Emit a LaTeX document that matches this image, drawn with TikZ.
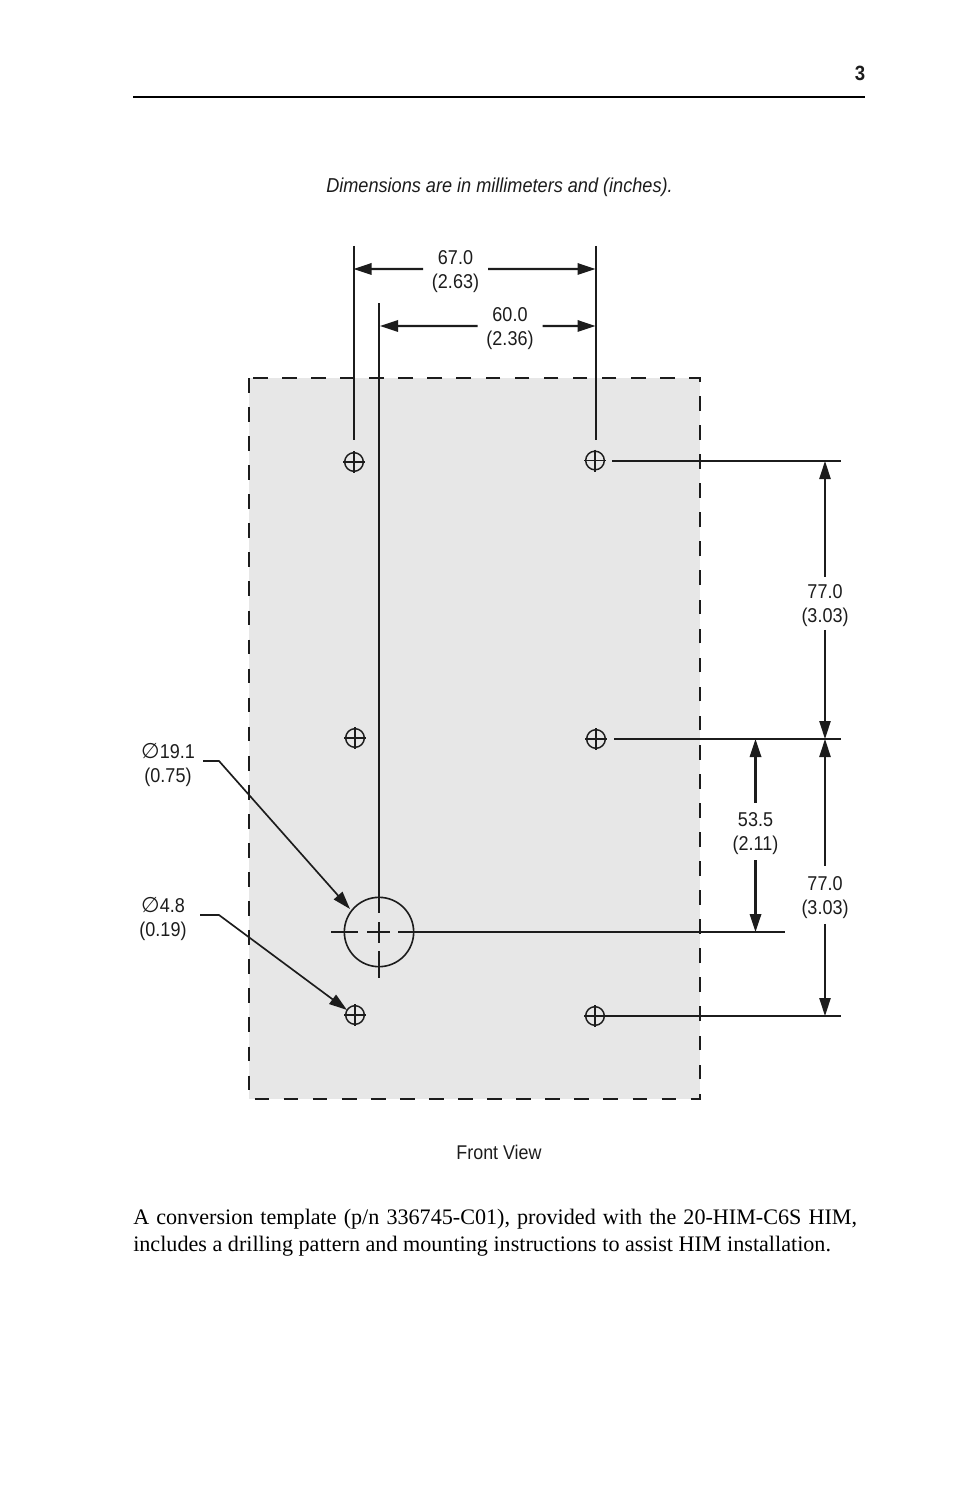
\documentclass[tikz,border=0pt]{standalone}
\usepackage{fontspec}
\setmainfont{Liberation Serif}
\newfontfamily\labelfont[FakeStretch=0.9]{Liberation Sans}
\newfontfamily\symfont{DejaVu Sans}
\usetikzlibrary{arrows.meta}
\definecolor{ink}{HTML}{1C1C1C}
\definecolor{panel}{HTML}{E7E7E7}
\tikzset{
  x=0.75pt,y=-0.75pt,
  thinline/.style={draw=ink,line width=1.1pt},
  medline/.style={draw=ink,line width=1.2pt},
  dimarrow/.style={draw=ink,line width=1.0pt,-{Triangle[length=13.5pt,width=8.5pt]}},
  leaderarrow/.style={draw=ink,line width=1.25pt,-{Triangle[length=13.5pt,width=8.5pt]}},
  boldarrow/.style={draw=ink,line width=1.7pt,-{Triangle[length=13.5pt,width=8.5pt]}},
  dimlabel/.style={font=\fontsize{15pt}{18pt}\selectfont\labelfont,text=ink,align=center,inner sep=0pt,outer sep=0pt},
  holemark/.style={circle,draw=ink,line width=1.1pt,minimum size=14pt,inner sep=0pt},
  bigbore/.style={circle,draw=ink,line width=1.2pt,minimum size=52pt,inner sep=0pt},
  panelbox/.style={fill=panel,draw=none},
  paneldash/.style={draw=ink,line width=1.5pt,dash pattern=on 11pt off 10.8pt},
  lift/.style={yshift=1.9pt},
}
\begin{document}
\begin{tikzpicture}
\useasboundingbox (0,0) rectangle (954,1487);
% header
\node[inner sep=0pt,font=\fontsize{15.5pt}{18pt}\selectfont\labelfont\bfseries,text=ink] (pagenum) at (860,73) {3};
\coordinate (ruleL) at (133,97);
\coordinate (ruleR) at (865,97);
\draw[draw=black,line width=1.4pt] (ruleL) -- (ruleR);
\node[inner sep=0pt,font=\fontsize{15.1pt}{18pt}\selectfont\labelfont\itshape,text=ink] (caption) at (499.5,187) {Dimensions are in millimeters and (inches).};
% panel
\coordinate (pA) at (249,378);
\coordinate (pB) at (700,1099);
\fill[panelbox] (pA) rectangle (pB);
\draw[paneldash] (pA) rectangle (pB);
% holes
\foreach \n/\x/\y in {h1/354/462,h2/595/460.5,h3/355/738,h4/596/739,h5/355/1015,h6/595/1016}{
  \node[holemark] (\n) at (\x,\y) {};
  \draw[thinline] (\x-11,\y) -- (\x+11,\y);
  \draw[thinline] (\x,\y-11) -- (\x,\y+11);
}
% big bore
\node[bigbore] (bore) at (379,932) {};
\draw[thinline] (379,303) -- (379,913);
\draw[thinline] (379,922) -- (379,943);
\draw[thinline] (367,932) -- (390,932);
\draw[thinline] (379,951) -- (379,978);
\draw[thinline] (331,932) -- (358,932);
\coordinate (boreEnd) at (785,932);
\draw[medline] (398,932) -- (boreEnd);
% extension lines
\coordinate (xA) at (354,246); \coordinate (xAb) at (354,440);
\coordinate (xB) at (596,246); \coordinate (xBb) at (596,440);
\draw[medline] (xA) -- (xAb);
\draw[medline] (xB) -- (xBb);
\coordinate (e1) at (841,461); \coordinate (e2) at (841,739); \coordinate (e3) at (841,1016);
\draw[medline] (612,461) -- (e1);
\draw[medline] (614,739) -- (e2);
\draw[medline] (604,1016) -- (e3);
% horizontal dimensions
\node[dimlabel,minimum width=48.75pt] (d67) at (455.5,271.5) {67.0\\(2.63)};
\draw[boldarrow] ([lift]d67.west) -- (353.5,269);
\draw[boldarrow] ([lift]d67.east) -- (595.5,269);
\node[dimlabel,minimum width=48.75pt] (d60) at (510,328.5) {60.0\\(2.36)};
\draw[boldarrow] ([lift]d60.west) -- (380,326);
\draw[boldarrow] ([lift]d60.east) -- (595.5,326);
% vertical dimensions
\node[dimlabel,minimum height=39.75pt] (d77a) at (825,606) {77.0\\(3.03)};
\draw[dimarrow] ([lift]d77a.north) -- (825,461);
\draw[dimarrow] ([lift]d77a.south) -- (825,739);
\node[dimlabel,minimum height=43pt] (d53) at (755.5,834) {53.5\\(2.11)};
\draw[boldarrow] ([lift]d53.north) -- (755.5,739);
\draw[boldarrow] ([lift]d53.south) -- (755.5,932);
\node[dimlabel,minimum height=43.5pt] (d77b) at (825,897.5) {77.0\\(3.03)};
\draw[dimarrow] ([lift]d77b.north) -- (825,739);
\draw[dimarrow] ([lift]d77b.south) -- (825,1016);
% leaders
\node[dimlabel] (l19) at (168,764.5) {{\symfont\fontsize{16pt}{18pt}\selectfont ∅}19.1\\(0.75)};
\coordinate (l19a) at (203,761); \coordinate (l19b) at (219,761);
\draw[leaderarrow] (l19a) -- (l19b) -- (350,909);
\node[dimlabel] (l48) at (163,918.5) {{\symfont\fontsize{16pt}{18pt}\selectfont ∅}4.8\\(0.19)};
\coordinate (l48a) at (200,915); \coordinate (l48b) at (219,915);
\draw[leaderarrow] (l48a) -- (l48b) -- (347,1010);
% captions
\node[inner sep=0pt,font=\fontsize{14.9pt}{18pt}\selectfont\labelfont,text=ink] (front) at (499,1152) {Front View};
\node[inner sep=0pt,anchor=base west,font=\fontsize{16.6pt}{20pt}\selectfont,text=black] (body1) at (133,1224) {\fontdimen2\font=5.3pt A conversion template (p/n 336745-C01), provided with the 20-HIM-C6S HIM,};
\node[inner sep=0pt,anchor=base west,font=\fontsize{16.6pt}{20pt}\selectfont,text=black] (body2) at (133,1251) {\fontdimen2\font=4.15pt includes a drilling pattern and mounting instructions to assist HIM installation.};
\end{tikzpicture}
\end{document}
